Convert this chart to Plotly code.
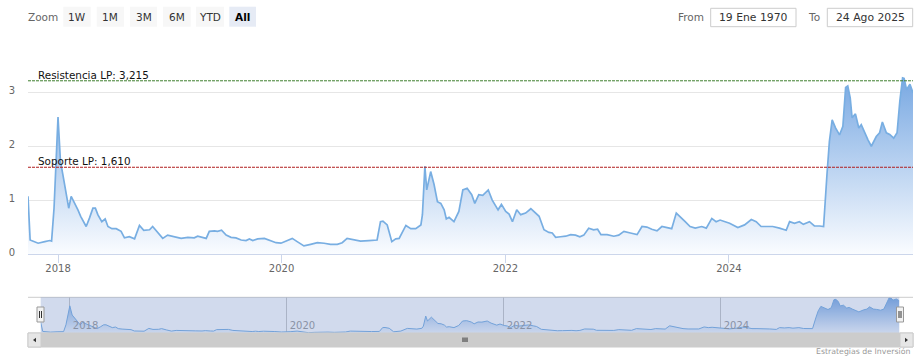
import plotly.graph_objects as go

W, H = 922, 363


def px(x):
    return x / W


def py(y):
    return 1 - y / H


# ---------------- data ----------------
dates = [
    "2017-09-25", "2017-10-02", "2017-10-06", "2017-10-28", "2017-11-19", "2017-12-05", "2017-12-11", "2017-12-19",
    "2018-01-01", "2018-01-09", "2018-01-17", "2018-01-28", "2018-02-05", "2018-02-13", "2018-02-24", "2018-03-07",
    "2018-03-16", "2018-03-23", "2018-04-03", "2018-04-14", "2018-04-25", "2018-05-03", "2018-05-11", "2018-05-24",
    "2018-06-04", "2018-06-13", "2018-06-26", "2018-07-10", "2018-07-26", "2018-08-06", "2018-08-22", "2018-09-08",
    "2018-09-24", "2018-10-08", "2018-10-27", "2018-11-06", "2018-11-23", "2018-12-09", "2018-12-25", "2019-01-16",
    "2019-02-07", "2019-03-01", "2019-03-22", "2019-04-02", "2019-04-19", "2019-04-30", "2019-05-10", "2019-05-27",
    "2019-06-06", "2019-06-19", "2019-07-04", "2019-07-20", "2019-08-05", "2019-08-22", "2019-09-07", "2019-09-18",
    "2019-09-29", "2019-10-15", "2019-11-06", "2019-11-22", "2019-12-14", "2019-12-30", "2020-01-15", "2020-02-05",
    "2020-02-21", "2020-03-14", "2020-04-05", "2020-04-27", "2020-05-19", "2020-06-09", "2020-07-01", "2020-07-17",
    "2020-08-02", "2020-08-24", "2020-09-15", "2020-10-12", "2020-11-08", "2020-11-19", "2020-11-27", "2020-12-11",
    "2020-12-26", "2021-01-08", "2021-01-19", "2021-02-10", "2021-02-26", "2021-03-14", "2021-03-31", "2021-04-05",
    "2021-04-13", "2021-04-19", "2021-05-02", "2021-05-13", "2021-05-24", "2021-06-04", "2021-06-15", "2021-06-22",
    "2021-07-01", "2021-07-17", "2021-08-02", "2021-08-15", "2021-08-29", "2021-09-13", "2021-09-23", "2021-10-06",
    "2021-10-19", "2021-11-06", "2021-11-19", "2021-12-08", "2021-12-19", "2022-01-02", "2022-01-13", "2022-01-24",
    "2022-02-07", "2022-02-20", "2022-03-08", "2022-03-25", "2022-04-10", "2022-04-21", "2022-05-07", "2022-05-23",
    "2022-06-03", "2022-06-14", "2022-06-30", "2022-07-17", "2022-08-02", "2022-08-18", "2022-09-01", "2022-09-14",
    "2022-09-30", "2022-10-16", "2022-10-29", "2022-11-09", "2022-11-29", "2022-12-21", "2023-01-06", "2023-01-23",
    "2023-02-13", "2023-03-07", "2023-03-23", "2023-04-08", "2023-04-24", "2023-05-11", "2023-05-27", "2023-06-12",
    "2023-06-28", "2023-07-13", "2023-07-26", "2023-08-11", "2023-08-27", "2023-09-13", "2023-10-04", "2023-10-19",
    "2023-11-06", "2023-11-20", "2023-12-03", "2023-12-20", "2024-01-03", "2024-01-30", "2024-02-21", "2024-03-14",
    "2024-03-30", "2024-04-15", "2024-05-02", "2024-05-23", "2024-06-14", "2024-07-06", "2024-07-17", "2024-08-02",
    "2024-08-18", "2024-08-31", "2024-09-20", "2024-10-06", "2024-10-23", "2024-11-05", "2024-11-16", "2024-11-24",
    "2024-12-03", "2024-12-14", "2024-12-27", "2025-01-07", "2025-01-16", "2025-01-23", "2025-01-31", "2025-02-06",
    "2025-02-17", "2025-02-28", "2025-03-08", "2025-03-19", "2025-03-30", "2025-04-10", "2025-04-26", "2025-05-07",
    "2025-05-16", "2025-05-29", "2025-06-09", "2025-06-22", "2025-07-03", "2025-07-12", "2025-07-21", "2025-07-26",
    "2025-08-03", "2025-08-14", "2025-08-24",
]
values = [
    1.07, 0.26, 0.25, 0.20, 0.23, 0.25, 0.24, 0.85,
    2.54, 1.72, 1.47, 1.13, 0.85, 1.07, 0.95, 0.82,
    0.70, 0.63, 0.51, 0.67, 0.85, 0.85, 0.73, 0.60,
    0.65, 0.51, 0.47, 0.47, 0.42, 0.30, 0.32, 0.28,
    0.53, 0.44, 0.45, 0.51, 0.39, 0.29, 0.35, 0.32,
    0.29, 0.31, 0.30, 0.33, 0.30, 0.29, 0.42, 0.43,
    0.42, 0.44, 0.35, 0.31, 0.30, 0.26, 0.25, 0.28,
    0.25, 0.28, 0.29, 0.25, 0.21, 0.20, 0.24, 0.29,
    0.23, 0.15, 0.18, 0.21, 0.20, 0.18, 0.18, 0.21,
    0.29, 0.27, 0.24, 0.25, 0.26, 0.60, 0.61, 0.54,
    0.23, 0.28, 0.29, 0.53, 0.47, 0.47, 0.54, 0.73,
    1.63, 1.19, 1.53, 1.29, 0.97, 0.94, 0.82, 0.65,
    0.68, 0.60, 0.79, 1.19, 1.22, 1.10, 0.94, 1.10,
    1.09, 1.19, 1.00, 0.82, 0.92, 0.79, 0.74, 0.60,
    0.82, 0.73, 0.76, 0.84, 0.76, 0.70, 0.45, 0.40,
    0.39, 0.31, 0.32, 0.33, 0.36, 0.35, 0.32, 0.35,
    0.48, 0.45, 0.46, 0.36, 0.36, 0.33, 0.35, 0.42,
    0.39, 0.36, 0.51, 0.50, 0.46, 0.43, 0.51, 0.49,
    0.47, 0.76, 0.68, 0.60, 0.51, 0.48, 0.51, 0.48,
    0.66, 0.60, 0.63, 0.60, 0.57, 0.49, 0.54, 0.64,
    0.60, 0.51, 0.51, 0.51, 0.48, 0.44, 0.60, 0.57,
    0.60, 0.55, 0.60, 0.52, 0.52, 0.51, 1.47, 2.09,
    2.49, 2.34, 2.21, 2.37, 3.09, 3.12, 2.90, 2.53,
    2.60, 2.34, 2.40, 2.25, 2.12, 2.00, 2.18, 2.25,
    2.45, 2.25, 2.22, 2.15, 2.25, 2.84, 3.27, 3.26,
    3.05, 3.15, 2.99,
]

resist_label = "Resistencia LP: 3,215"
resist_value = 3.215
support_label = "Soporte LP: 1,610"
support_value = 1.610

year_ticks = ["2018-01-01", "2020-01-01", "2022-01-01", "2024-01-01"]
year_labels = ["2018", "2020", "2022", "2024"]
y_ticks = [0, 1, 2, 3, 4]
y_labels = ["0", "1", "2", "3", ""]

zoom_label = "Zoom"
zoom_buttons = ["1W", "1M", "3M", "6M", "YTD", "All"]
selected_button = "All"
from_label, to_label = "From", "To"
from_date_text, to_date_text = "19 Ene 1970", "24 Ago 2025"
credit_text = "Estrategias de Inversión"

# ---------------- styles ----------------
FONT = "DejaVu Sans"
LINE = "#78aee2"
GRAD = dict(type="vertical", start=0, stop=3.3,
            colorscale=[[0, "rgb(250,252,255)"], [1, "rgb(120,168,226)"]])

fig = go.Figure()
fig.add_trace(go.Scatter(x=dates, y=values, mode="lines", line=dict(color=LINE, width=1.7),
                         fill="tozeroy", fillgradient=GRAD, xaxis="x", yaxis="y",
                         hoverinfo="skip", showlegend=False))
fig.add_trace(go.Scatter(x=dates, y=values, mode="lines", line=dict(color=LINE, width=1),
                         fill="tozeroy", fillgradient=GRAD, xaxis="x2", yaxis="y2",
                         hoverinfo="skip", showlegend=False))

shapes = []
annotations = []

# support / resistance plot lines
for val, lab, col in [(resist_value, resist_label, "#3f7f2f"), (support_value, support_label, "#b01e1e")]:
    shapes.append(dict(type="line", xref="x domain", yref="y", x0=0, x1=1, y0=val, y1=val,
                       line=dict(color=col, width=1, dash="3px,1px"), layer="above"))
    annotations.append(dict(text=lab, xref="paper", yref="y", x=px(36), y=val, xanchor="left",
                            yanchor="bottom", yshift=-2, showarrow=False,
                            font=dict(family=FONT, size=10.4, color="#111")))

# navigator
shapes.append(dict(type="line", xref="paper", yref="paper", x0=px(28), x1=px(913), y0=py(297.3), y1=py(297.3),
                   line=dict(color="#cccccc", width=1)))
shapes.append(dict(type="rect", xref="x2 domain", yref="y2 domain", x0=0, x1=1, y0=0, y1=1,
                   fillcolor="rgba(102,133,194,0.3)", line=dict(width=0), layer="above"))
# scrollbar
shapes.append(dict(type="rect", xref="paper", yref="paper", x0=px(28), x1=px(913), y0=py(347), y1=py(333),
                   fillcolor="#cccccc", line=dict(color="#cccccc", width=1)))
for bx0, bx1 in [(28, 41), (900, 913)]:
    shapes.append(dict(type="rect", xref="paper", yref="paper", x0=px(bx0), x1=px(bx1), y0=py(347), y1=py(333),
                       fillcolor="#e6e6e6", line=dict(color="#cccccc", width=1)))
shapes.append(dict(type="path", xref="paper", yref="paper", fillcolor="#333333", line=dict(width=0),
                   path=f"M {px(33)},{py(340)} L {px(36)},{py(337.8)} L {px(36)},{py(342.2)} Z"))
shapes.append(dict(type="path", xref="paper", yref="paper", fillcolor="#333333", line=dict(width=0),
                   path=f"M {px(908)},{py(340)} L {px(905)},{py(337.8)} L {px(905)},{py(342.2)} Z"))
for gx in [463, 465, 467]:
    shapes.append(dict(type="line", xref="paper", yref="paper", x0=px(gx), x1=px(gx), y0=py(342), y1=py(337.5),
                       line=dict(color="#333333", width=1)))
# navigator handles
for hx in [37, 896.5]:
    shapes.append(dict(type="rect", xref="paper", yref="paper", x0=px(hx), x1=px(hx + 7), y0=py(322), y1=py(307),
                       fillcolor="#f2f2f2", line=dict(color="#999999", width=1), layer="above"))
    for lx in [hx + 2.5, hx + 4.5]:
        shapes.append(dict(type="line", xref="paper", yref="paper", x0=px(lx), x1=px(lx), y0=py(318), y1=py(311),
                           line=dict(color="#333333", width=1), layer="above"))

# range selector
annotations.append(dict(text=zoom_label, xref="paper", yref="paper", x=px(43), y=py(16.7), xanchor="center",
                        yanchor="middle", showarrow=False, font=dict(family=FONT, size=10.5, color="#666666")))
btn_x = [(63.3, 90.7), (96.7, 124), (130, 157), (163, 190.7), (196, 224), (229.3, 256)]
for lab, (x0, x1) in zip(zoom_buttons, btn_x):
    sel = lab == selected_button
    shapes.append(dict(type="rect", xref="paper", yref="paper", x0=px(x0), x1=px(x1), y0=py(26.7), y1=py(6.7),
                       fillcolor="#e6ebf5" if sel else "#f7f7f7", line=dict(width=0)))
    annotations.append(dict(text=f"<b>{lab}</b>" if sel else lab, xref="paper", yref="paper",
                            x=px((x0 + x1) / 2), y=py(16.7), xanchor="center", yanchor="middle", showarrow=False,
                            font=dict(family=FONT, size=10.5, color="#000000" if sel else "#333333")))

# date inputs
annotations.append(dict(text=from_label, xref="paper", yref="paper", x=px(690.5), y=py(16.7), xanchor="center",
                        yanchor="middle", showarrow=False, font=dict(family=FONT, size=10.5, color="#666666")))
annotations.append(dict(text=to_label, xref="paper", yref="paper", x=px(814), y=py(16.7), xanchor="center",
                        yanchor="middle", showarrow=False, font=dict(family=FONT, size=10.5, color="#666666")))
for txt, (x0, x1) in [(from_date_text, (710.7, 796)), (to_date_text, (827.3, 912.7))]:
    shapes.append(dict(type="rect", xref="paper", yref="paper", x0=px(x0), x1=px(x1), y0=py(26.7), y1=py(8.3),
                       fillcolor="#ffffff", line=dict(color="#cccccc", width=1)))
    annotations.append(dict(text=txt, xref="paper", yref="paper", x=px((x0 + x1) / 2), y=py(17.3),
                            xanchor="center", yanchor="middle", showarrow=False,
                            font=dict(family=FONT, size=10.8, color="#333333")))

# credits
annotations.append(dict(text=credit_text, xref="paper", yref="paper", x=px(912), y=py(351), xanchor="right",
                        yanchor="middle", showarrow=False, font=dict(family=FONT, size=7.8, color="#999999")))

fig.update_layout(
    width=W, height=H,
    margin=dict(l=0, r=0, t=0, b=0, autoexpand=False),
    paper_bgcolor="white", plot_bgcolor="white",
    showlegend=False, hovermode=False,
    font=dict(family=FONT, color="#666666"),
    shapes=shapes, annotations=annotations,
    xaxis=dict(domain=[px(28), px(913)], range=[dates[0], dates[-1]], type="date", anchor="y",
               tickmode="array", tickvals=year_ticks, ticktext=year_labels,
               ticks="outside", ticklen=8, tickcolor="#ccd6eb", showline=True, linecolor="#ccd6eb",
               linewidth=1, showgrid=False, zeroline=False, automargin=False, fixedrange=True,
               ticklabelstandoff=-3,
               tickfont=dict(family=FONT, size=10, color="#666666")),
    yaxis=dict(domain=[py(254), py(38.5)], range=[0, 4], anchor="x", tickmode="array",
               tickvals=y_ticks, ticktext=y_labels, showgrid=True, gridcolor="#e6e6e6", gridwidth=1,
               zeroline=False, showline=False, ticks="", ticklabelstandoff=12, ticklabelshift=-2,
               automargin=False, fixedrange=True,
               tickfont=dict(family=FONT, size=10, color="#666666")),
    xaxis2=dict(domain=[px(40.7), px(899.3)], range=[dates[0], dates[-1]], type="date", anchor="y2",
                tickmode="array", tickvals=year_ticks, ticktext=year_labels,
                ticklabelposition="inside right", ticks="", showgrid=True, gridcolor="#c8c8c8",
                ticklabelstandoff=-4, ticklabelshift=3,
                showline=False, zeroline=False, automargin=False, fixedrange=True,
                tickfont=dict(family=FONT, size=10, color="#999999")),
    yaxis2=dict(domain=[py(333), py(297.3)], range=[0.12, 3.3], anchor="x2", visible=False,
                fixedrange=True),
)

fig.write_html("out.html")
